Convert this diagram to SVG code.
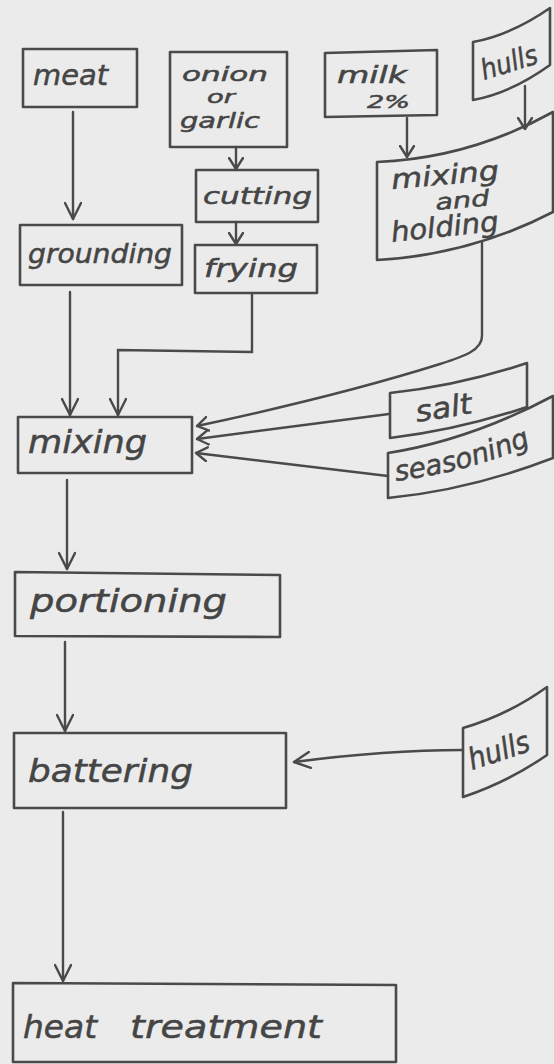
<svg xmlns="http://www.w3.org/2000/svg" width="554" height="1064" viewBox="0 0 554 1064">
<style>
.box{fill:none;stroke:#4a4a4a;stroke-width:2.6;stroke-linejoin:round}
.ln{fill:none;stroke:#4a4a4a;stroke-width:2.4;stroke-linecap:round}
.t{font-family:"DejaVu Sans","Liberation Sans",sans-serif;font-style:oblique;fill:#454545;stroke:#454545;stroke-width:0.5}
</style>
<defs>
<marker id="ah" viewBox="0 0 20 18" refX="18" refY="9" markerWidth="20" markerHeight="18" orient="auto" markerUnits="userSpaceOnUse">
<path d="M2,1 L18,9 L2,17" fill="none" stroke="#4a4a4a" stroke-width="2.4" stroke-linecap="round" stroke-linejoin="round"/>
</marker>
<marker id="as" viewBox="0 0 13 16" refX="12" refY="8" markerWidth="13" markerHeight="16" orient="auto" markerUnits="userSpaceOnUse">
<path d="M1,1 L12,8 L1,15" fill="none" stroke="#4a4a4a" stroke-width="2.4" stroke-linecap="round" stroke-linejoin="round"/>
</marker>
<path id="seaPath" d="M396,481 Q470,472 536,443"/>
</defs>
<rect x="0" y="0" width="554" height="1064" fill="#ebebeb"/>

<g id="connectors">
<path class="ln" d="M73,112 V219" marker-end="url(#ah)"/>
<path class="ln" d="M236,147 V169" marker-end="url(#as)"/>
<path class="ln" d="M236,222 V244" marker-end="url(#as)"/>
<path class="ln" d="M407,118 V157" marker-end="url(#as)"/>
<path class="ln" d="M525,86 V129" marker-end="url(#as)"/>
<path class="ln" d="M70,292 V415" marker-end="url(#ah)"/>
<path class="ln" d="M252,294 V352 L118,350 V415" marker-end="url(#ah)"/>
<path class="ln" d="M482,242 V336 C482,350 465,356 440,364 C370,386 300,404 197,426" marker-end="url(#as)"/>
<path class="ln" d="M389,414 L197,439" marker-end="url(#as)"/>
<path class="ln" d="M388,476 L196,453" marker-end="url(#as)"/>
<path class="ln" d="M67,480 V569" marker-end="url(#ah)"/>
<path class="ln" d="M65,642 V731" marker-end="url(#ah)"/>
<path class="ln" d="M463,750 C400,750 340,756 294,762" marker-end="url(#ah)"/>
<path class="ln" d="M63,812 V981" marker-end="url(#ah)"/>
</g>

<g id="meat">
<rect class="box" x="23" y="49" width="114" height="58"/>
<text class="t" x="33" y="85" font-size="28" textLength="75" lengthAdjust="spacingAndGlyphs">meat</text>
</g>
<g id="onion">
<rect class="box" x="170" y="52" width="117" height="95"/>
<text class="t" x="182" y="81" font-size="19" font-style="normal" textLength="86" lengthAdjust="spacingAndGlyphs">onion</text>
<text class="t" x="207" y="103" font-size="18" font-style="normal" textLength="28" lengthAdjust="spacingAndGlyphs">or</text>
<text class="t" x="180" y="128" font-size="21" font-style="normal" textLength="80" lengthAdjust="spacingAndGlyphs">garlic</text>
</g>
<g id="cutting">
<rect class="box" x="196" y="170" width="122" height="52"/>
<text class="t" x="203" y="204" font-size="23" textLength="109" lengthAdjust="spacingAndGlyphs">cutting</text>
</g>
<g id="frying">
<rect class="box" x="195" y="245" width="122" height="48"/>
<text class="t" x="204" y="277" font-size="24" textLength="94" lengthAdjust="spacingAndGlyphs">frying</text>
</g>
<g id="grounding">
<rect class="box" x="20" y="225" width="162" height="60"/>
<text class="t" x="28" y="263" font-size="26" textLength="144" lengthAdjust="spacingAndGlyphs">grounding</text>
</g>
<g id="milk">
<path class="box" d="M325,53 L437,50 L437,115 L325,117 Z"/>
<text class="t" x="337" y="83" font-size="23" textLength="70" lengthAdjust="spacingAndGlyphs">milk</text>
<text class="t" x="367" y="108" font-size="18" textLength="43" lengthAdjust="spacingAndGlyphs">2%</text>
</g>
<g id="hulls-top">
<path class="box" d="M473,42 Q511,35 550,8 L550,65 Q511,93 473,100 Z"/>
<text class="t" x="484" y="80" font-size="28" textLength="58" lengthAdjust="spacingAndGlyphs" transform="rotate(-17 484 80)">hulls</text>
</g>
<g id="mixing-holding">
<path class="box" d="M377,162 Q470,158 553,112 L553,212 Q470,255 377,260 Z"/>
<text class="t" x="392" y="189" font-size="27" textLength="108" lengthAdjust="spacingAndGlyphs" transform="rotate(-5 392 189)">mixing</text>
<text class="t" x="436" y="210" font-size="22" textLength="54" lengthAdjust="spacingAndGlyphs" transform="rotate(-5 436 210)">and</text>
<text class="t" x="392" y="242" font-size="28" textLength="108" lengthAdjust="spacingAndGlyphs" transform="rotate(-6 392 242)">holding</text>
</g>
<g id="mixing">
<rect class="box" x="18" y="417" width="174" height="56"/>
<text class="t" x="28" y="453" font-size="32" textLength="119" lengthAdjust="spacingAndGlyphs">mixing</text>
</g>
<g id="salt">
<path class="box" d="M390,393 Q458,386 527,363 L527,407 Q458,430 390,438 Z"/>
<text class="t" x="417" y="422" font-size="29" textLength="57" lengthAdjust="spacingAndGlyphs" transform="rotate(-9 417 422)">salt</text>
</g>
<g id="seasoning">
<path class="box" d="M388,453 Q470,440 553,396 L553,458 Q470,490 388,498 Z"/>
<text class="t" font-size="28" textLength="140" lengthAdjust="spacingAndGlyphs"><textPath href="#seaPath">seasoning</textPath></text>
</g>
<g id="portioning">
<path class="box" d="M15,572 L280,575 L280,637 L15,636 Z"/>
<text class="t" x="30" y="612" font-size="32" textLength="197" lengthAdjust="spacingAndGlyphs">portioning</text>
</g>
<g id="battering">
<rect class="box" x="14" y="733" width="272" height="75"/>
<text class="t" x="28" y="782" font-size="32" textLength="165" lengthAdjust="spacingAndGlyphs">battering</text>
</g>
<g id="hulls-bottom">
<path class="box" d="M463,728 Q508,715 547,687 L547,755 Q508,782 463,797 Z"/>
<text class="t" x="472" y="770" font-size="30" textLength="63" lengthAdjust="spacingAndGlyphs" transform="rotate(-18 472 770)">hulls</text>
</g>
<g id="heat-treatment">
<path class="box" d="M13,983 L396,985 L396,1062 L13,1062 Z"/>
<text class="t" x="23" y="1038" font-size="32" textLength="74" lengthAdjust="spacingAndGlyphs">heat</text>
<text class="t" x="130" y="1038" font-size="32" textLength="192" lengthAdjust="spacingAndGlyphs">treatment</text>
</g>
</svg>
